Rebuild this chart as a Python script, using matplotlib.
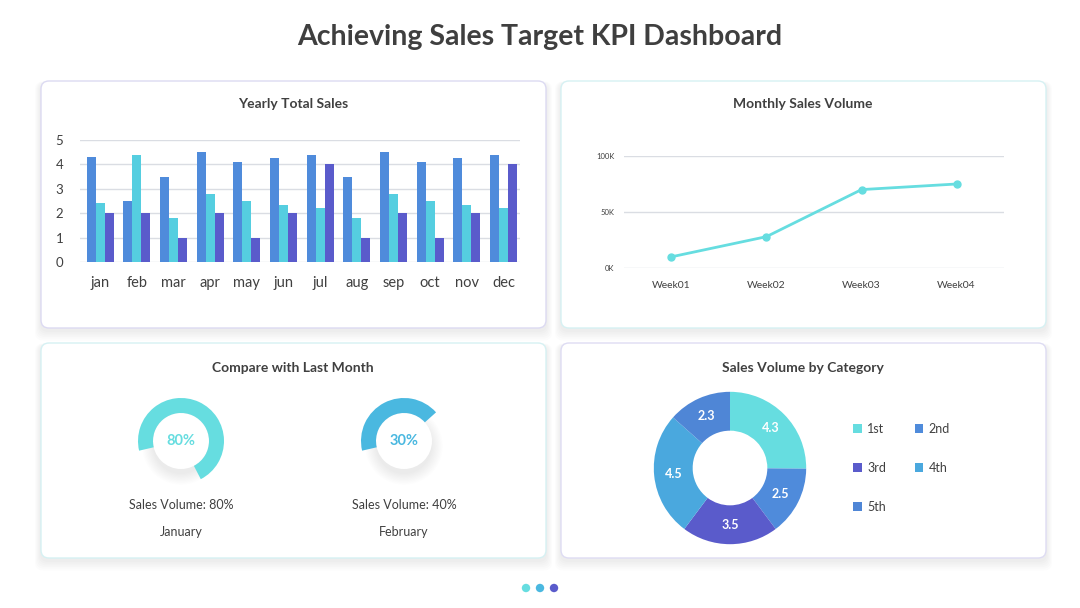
import matplotlib.pyplot as plt
import numpy as np
from matplotlib.patches import FancyBboxPatch, Wedge, Circle

plt.rcParams['font.family'] = ['Lato', 'DejaVu Sans']

# data
months = ['jan', 'feb', 'mar', 'apr', 'may', 'jun', 'jul', 'aug', 'sep', 'oct', 'nov', 'dec']
sales_a = [4.3, 2.5, 3.5, 4.5, 4.1, 4.25, 4.4, 3.5, 4.5, 4.1, 4.25, 4.4]
sales_b = [2.4, 4.4, 1.8, 2.8, 2.5, 2.35, 2.2, 1.8, 2.8, 2.5, 2.35, 2.2]
sales_c = [2, 2, 1, 2, 1, 2, 4, 1, 2, 1, 2, 4]

weeks = ['Week01', 'Week02', 'Week03', 'Week04']
weekly_volume = [10000, 28000, 70000, 75000]

gauge_months = ['January', 'February']
gauge_center_text = ['80%', '30%']
gauge_caption = ['Sales Volume: 80%', 'Sales Volume: 40%']
gauge_arc = [0.71, 0.42]  # share of the ring that is filled, as drawn

categories = ['1st', '2nd', '3rd', '4th', '5th']
category_volume = [4.3, 2.5, 3.5, 4.5, 2.3]

# colours
BLUE = '#4F8BDB'
CYAN = '#55CEE0'
PURPLE = '#5A5BCB'
TEAL = '#66DDE0'
SKY = '#4AB8E0'
TXT = '#404040'

W, H = 1080, 608
fig = plt.figure(figsize=(W / 100, H / 100), dpi=100)
fig.patch.set_facecolor('white')


def px(l, t, r, b):
    return [l / W, 1 - b / H, (r - l) / W, (b - t) / H]


bg = fig.add_axes([0, 0, 1, 1])
bg.set_xlim(0, W)
bg.set_ylim(H, 0)
bg.axis('off')

cards = [(41, 81, 546, 328, '#DCDAF2'), (561, 81, 1046, 328, '#D6F1F3'),
         (41, 343, 546, 558, '#D6F1F3'), (561, 343, 1046, 558, '#DEDCF3')]
for l, t, r, b, ec in cards:
    for k in range(6):
        bg.add_patch(FancyBboxPatch((l - 1 - k, t + 2 - k * 0.3), r - l + 2 + 2 * k, b - t + 2 + 2 * k,
                                    boxstyle='round,pad=0,rounding_size=8',
                                    fc='#000000', ec='none', alpha=0.01, zorder=1))
    bg.add_patch(FancyBboxPatch((l, t), r - l, b - t, boxstyle='round,pad=0,rounding_size=8',
                                fc='white', ec=ec, lw=1, zorder=2))

bg.text(540, 37, 'Achieving Sales Target KPI Dashboard', ha='center', va='center',
        fontsize=20.5, fontweight='bold', color='#3F3F3F')
bg.text(293, 104, 'Yearly Total Sales', ha='center', va='center', fontsize=10, fontweight='bold', color=TXT)
bg.text(803, 104, 'Monthly Sales Volume', ha='center', va='center', fontsize=10, fontweight='bold', color=TXT)
bg.text(293, 368, 'Compare with Last Month', ha='center', va='center', fontsize=10, fontweight='bold', color=TXT)
bg.text(803, 368, 'Sales Volume by Category', ha='center', va='center', fontsize=10, fontweight='bold', color=TXT)

for x, c in zip([526, 540, 554], [TEAL, SKY, PURPLE]):
    bg.add_patch(Circle((x, 588), 4.2, fc=c, ec='none', zorder=3))

# bar chart
ax1 = fig.add_axes(px(80, 140, 520, 262))
x = np.arange(len(months))
w = 0.245
ax1.bar(x - w, sales_a, w, color=BLUE, zorder=3)
ax1.bar(x, sales_b, w, color=CYAN, zorder=3)
ax1.bar(x + w, sales_c, w, color=PURPLE, zorder=3)
ax1.set_xlim(-0.55, 11.45)
ax1.set_ylim(0, 5)
ax1.set_yticks(range(6))
ax1.set_xticks(x)
ax1.set_xticklabels(months)
ax1.grid(axis='y', color='#DADDE3', lw=1)
ax1.tick_params(length=0, colors='#404040')
ax1.tick_params(axis='x', labelsize=10.5, pad=10)
ax1.tick_params(axis='y', labelsize=9.5, pad=12)
for s in ax1.spines.values():
    s.set_visible(False)
ax1.set_facecolor('none')

# line chart
ax2 = fig.add_axes(px(624, 156, 1004, 268))
ax2.plot(range(4), weekly_volume, color=TEAL, lw=2, marker='o', ms=5, zorder=3)
ax2.set_xlim(-0.5, 3.5)
ax2.set_ylim(0, 100000)
ax2.set_yticks([0, 50000, 100000])
ax2.set_yticklabels(['0K', '50K', '100K'])
ax2.set_xticks(range(4))
ax2.set_xticklabels(weeks)
ax2.grid(axis='y', color='#DADDE3', lw=1)
ax2.tick_params(length=0, colors='#404040')
ax2.tick_params(axis='x', labelsize=7.5, pad=9)
ax2.tick_params(axis='y', labelsize=5.5, pad=7)
for s in ax2.spines.values():
    s.set_visible(False)
ax2.set_facecolor('none')

# gauges
for cx, frac, ctext, cap, mon, col in zip([181, 404], gauge_arc, gauge_center_text, gauge_caption,
                                          gauge_months, [TEAL, SKY]):
    gx = fig.add_axes(px(cx - 60, 381, cx + 60, 501))
    gx.set_xlim(-60, 60)
    gx.set_ylim(-60, 60)
    gx.axis('off')
    for k in range(10):
        gx.add_patch(Circle((0, -5), 28 + k * 1.2, fc='black', ec='none', alpha=0.008, zorder=1))
    gx.add_patch(Circle((0, 0), 28, fc='white', ec='none', zorder=2))
    start = 193
    gx.add_patch(Wedge((0, 0), 43, start - 360 * frac, start, width=15, fc=col, ec='none', zorder=3))
    gx.text(0, 0, ctext, ha='center', va='center', fontsize=10.5, fontweight='bold', color=col, zorder=4)
    bg.text(cx, 505, cap, ha='center', va='center', fontsize=9, color=TXT)
    bg.text(cx, 532, mon, ha='center', va='center', fontsize=9, color=TXT)

# donut
ax4 = fig.add_axes(px(650, 388, 810, 548))
total = sum(category_volume)
cat_colors = ['#66DDE0', '#4F8BDB', '#5A5BCB', '#4AA8DE', '#4F86D6']
wedges, _, autotexts = ax4.pie(category_volume, colors=cat_colors, startangle=90, counterclock=False,
                               radius=1, wedgeprops=dict(width=0.51, edgecolor='none'),
                               autopct=lambda p: f'{p * total / 100:.1f}', pctdistance=0.745,
                               textprops=dict(color='white', fontweight='bold', fontsize=9))
ax4.set_xlim(-1.05, 1.05)
ax4.set_ylim(-1.05, 1.05)
order = [0, 2, 4, 1, 3]
ax4.legend([wedges[i] for i in order], [categories[i] for i in order], ncol=2,
           loc='center left', bbox_to_anchor=(1.2, 0.5), frameon=False,
           fontsize=9, handlelength=0.7, handleheight=0.7, labelspacing=2.15,
           columnspacing=2.3, handletextpad=0.4, labelcolor=TXT)

fig.savefig('out.png', dpi=100)
